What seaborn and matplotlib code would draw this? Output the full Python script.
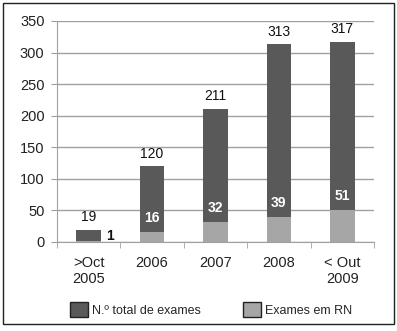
import numpy as np
import pandas as pd
import matplotlib
matplotlib.use('Agg')
import matplotlib.pyplot as plt
import seaborn as sns
from matplotlib.patches import Rectangle, Patch

# data
periods = ['>Oct\n2005', '2006', '2007', '2008', '< Out\n2009']
total_exames = [19, 120, 211, 313, 317]
exames_rn = [1, 16, 32, 39, 51]

dark = '#595959'
light = '#a6a6a6'

sns.set_style('white')
plt.rcParams['font.family'] = ['Liberation Sans', 'DejaVu Sans']

df = pd.DataFrame({'periodo': periods, 'total': total_exames, 'rn': exames_rn})

fig = plt.figure(figsize=(3.97, 3.31), dpi=100)
ax = fig.add_axes([0.1436, 0.269, 0.7984, 0.6676])

sns.barplot(data=df, x='periodo', y='total', color=dark, width=0.39,
            saturation=1, linewidth=0, ax=ax, zorder=2)
sns.barplot(data=df, x='periodo', y='rn', color=light, width=0.39,
            saturation=1, linewidth=0, ax=ax, zorder=3)

ax.set_ylim(0, 350)
ax.set_xlim(-0.5, 4.5)
ax.set_yticks(np.arange(0, 351, 50))
ax.yaxis.grid(True, color='#a0a0a0', linewidth=1)
ax.set_axisbelow(True)
ax.set_xlabel('')
ax.set_ylabel('')
for s in ['top', 'right']:
    ax.spines[s].set_visible(False)
ax.spines['left'].set_color('#a0a0a0')
ax.spines['bottom'].set_color('#a0a0a0')

ax.tick_params(axis='y', labelsize=10.5, labelcolor='#222222', length=4,
               color='#a0a0a0', pad=5, direction='out', left=True)
ax.tick_params(axis='x', which='major', length=0, pad=10, labelsize=10.5,
               labelcolor='#222222')
ax.set_xticks(np.arange(-0.5, 4.6, 1), minor=True)
ax.tick_params(axis='x', which='minor', length=4, color='#a0a0a0', bottom=True)

# value labels
ax.bar_label(ax.containers[0], labels=[str(v) for v in total_exames],
             padding=4, fontsize=10, color='#111111')
rn_labels = [''] + [str(v) for v in exames_rn[1:]]
ax.bar_label(ax.containers[1], labels=rn_labels, padding=5, fontsize=10,
             color='white', fontweight='bold')
ax.annotate(str(exames_rn[0]), xy=(0.195, total_exames[0] / 2), xytext=(4, 0),
            textcoords='offset points', fontsize=10, fontweight='bold',
            color='#111111', ha='left', va='center')

handles = [Patch(facecolor=dark, edgecolor='#222222', label='N.º total de exames'),
           Patch(facecolor=light, edgecolor='#222222', label='Exames em RN')]
fig.legend(handles=handles, loc='lower left', bbox_to_anchor=(70 / 397, 0.042),
           ncol=2, frameon=False, fontsize=9, handlelength=1.45,
           handleheight=1.5, columnspacing=3.4, handletextpad=0.3,
           borderpad=0, borderaxespad=0)

fig.patches.append(Rectangle((0.008, 0.02), 0.984, 0.97, transform=fig.transFigure,
                             fill=False, edgecolor='#222222', linewidth=1))

fig.savefig('out.png', dpi=100)
